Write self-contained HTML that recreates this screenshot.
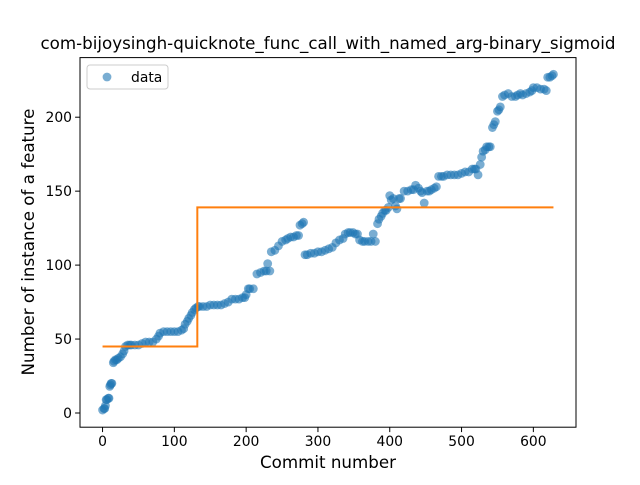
<!DOCTYPE html>
<html><head><meta charset="utf-8"><style>
body{margin:0;background:#fff}
svg text{font-family:"DejaVu Sans","Liberation Sans",sans-serif;fill:#000}
</style></head><body>
<svg id="chart" width="640" height="480" viewBox="0 0 640 480" xmlns="http://www.w3.org/2000/svg">
<rect width="640" height="480" fill="#fff"/>
<g id="marks"></g>
<g id="axes"></g>
<text x="328" y="49" text-anchor="middle" font-size="16.7">com-bijoysingh-quicknote_func_call_with_named_arg-binary_sigmoid</text>
<text x="328" y="468" text-anchor="middle" font-size="16.7">Commit number</text>
<text x="34" y="242" text-anchor="middle" font-size="16.7" transform="rotate(-90 34 242)">Number of instance of a feature</text>
<g>
<rect x="87" y="65" width="81" height="24" rx="3" fill="#fff" fill-opacity="0.8" stroke="#ccc"/>
<circle cx="107" cy="77" r="4.4" fill="#1f77b4" fill-opacity="0.6"/>
<text x="131" y="82" font-size="13.9">data</text>
</g>
</svg>
<script>
const commits=[
0,2,3,4,5,6,8,9,10,11,
12,13,15,16,18,20,22,25,28,30,
32,35,38,40,45,50,55,60,65,70,
75,78,80,85,90,95,100,105,110,113,
115,118,120,123,125,128,130,133,135,140,
145,150,155,160,165,170,175,180,185,190,
195,198,200,203,205,210,215,220,225,228,
230,233,235,240,245,250,255,258,262,266,
270,273,275,278,280,282,285,290,295,300,
305,310,315,320,325,330,335,338,342,345,
349,352,355,358,362,365,370,374,377,380,
383,385,388,390,393,395,398,400,402,405,
408,410,413,415,420,425,430,433,436,440,
443,445,448,452,455,458,462,465,468,472,
475,480,485,490,495,500,505,510,515,518,
520,523,526,528,530,533,535,538,540,543,
545,547,550,552,554,557,560,565,570,575,
578,582,585,590,595,598,600,605,610,615,
618,620,623,626,628];
const values=[
2,3,3,5,9,9,10,10,18,19,
20,20,34,35,36,36,37,38,40,42,
45,46,46,46,46,46,47,48,48,48,
50,52,54,55,55,55,55,55,56,57,
60,62,64,66,68,70,71,72,72,72,
72,73,73,73,73,74,75,77,77,77,
78,78,80,84,84,84,94,95,96,96,
101,96,109,110,113,116,117,118,119,119,
120,120,127,128,129,107,107,108,108,109,
109,110,111,112,115,117,118,121,122,122,
122,121,121,117,116,116,116,116,121,116,
128,131,133,135,137,137,139,147,144,145,
140,138,145,145,150,150,151,151,154,152,
150,149,142,150,150,151,152,153,160,160,
160,161,161,161,161,162,163,163,165,165,
165,161,168,173,177,178,180,180,180,193,
195,197,204,205,207,214,215,216,214,214,
215,216,215,216,217,218,220,220,219,219,
218,227,227,228,229];
const stepX=[0,132,132,628];
const stepY=[45,45,139,139];
const xTicks=[0,100,200,300,400,500,600];
const yTicks=[0,50,100,150,200];
const L=80,R=576,T=57.6,B=427.2,xmin=-31.4,xmax=659.4,ymin=-9.6,ymax=240.3;
function sx(v){return L+(v-xmin)/(xmax-xmin)*(R-L);}
function sy(v){return B-(v-ymin)/(ymax-ymin)*(B-T);}
const NS="http://www.w3.org/2000/svg";
const marks=document.getElementById('marks'),axes=document.getElementById('axes');
const n=Math.min(commits.length,values.length);
for(let i=0;i<n;i++){
 const c=document.createElementNS(NS,'circle');
 c.setAttribute('cx',sx(commits[i]));c.setAttribute('cy',sy(values[i]));c.setAttribute('r',4.4);
 c.setAttribute('fill','#1f77b4');c.setAttribute('fill-opacity','0.6');
 
 
 marks.appendChild(c);
}
const pl=document.createElementNS(NS,'polyline');
pl.setAttribute('points',stepX.map((x,i)=>sx(x)+','+sy(stepY[i])).join(' '));
pl.setAttribute('fill','none');pl.setAttribute('stroke','#ff7f0e');pl.setAttribute('stroke-width','2');


marks.appendChild(pl);
const fr=document.createElementNS(NS,'rect');
fr.setAttribute('x',L);fr.setAttribute('y',T);fr.setAttribute('width',R-L);fr.setAttribute('height',B-T);
fr.setAttribute('fill','none');fr.setAttribute('stroke','#000');fr.setAttribute('stroke-width','1');


axes.appendChild(fr);
xTicks.forEach(t=>{
 const x=sx(t);
 const l=document.createElementNS(NS,'line');
 l.setAttribute('x1',x);l.setAttribute('x2',x);l.setAttribute('y1',B);l.setAttribute('y2',B+4.9);l.setAttribute('stroke','#000');
 
 
 axes.appendChild(l);
 const tx=document.createElementNS(NS,'text');
 tx.setAttribute('x',x);tx.setAttribute('y',B+19);tx.setAttribute('text-anchor','middle');tx.setAttribute('font-size','13.9');
 tx.textContent=t;
 
 
 axes.appendChild(tx);
});
yTicks.forEach(t=>{
 const y=sy(t);
 const l=document.createElementNS(NS,'line');
 l.setAttribute('x1',L-4.9);l.setAttribute('x2',L);l.setAttribute('y1',y);l.setAttribute('y2',y);l.setAttribute('stroke','#000');
 
 
 axes.appendChild(l);
 const tx=document.createElementNS(NS,'text');
 tx.setAttribute('x',L-8);tx.setAttribute('y',y+5);tx.setAttribute('text-anchor','end');tx.setAttribute('font-size','13.9');
 tx.textContent=t;
 
 
 axes.appendChild(tx);
});
</script>
</body></html>
